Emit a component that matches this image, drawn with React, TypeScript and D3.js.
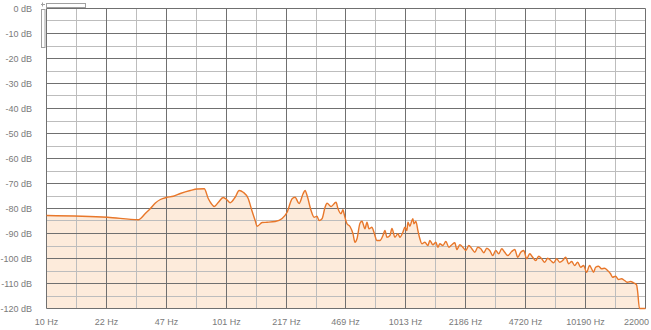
import React from "react";
import * as d3 from "d3";

const freqs: number[] = [
  10, 21.9, 32.6, 33.4, 35.6, 38.0, 40.5, 43.2, 46.6, 51.0, 55.8, 63.4, 69.4, 75.9, 79.9, 83.0, 86.3, 90.8, 96.8, 101.9,
  105.9, 112.9, 118.9, 125.2, 133.5, 140.5, 146.0, 149.8, 159.7, 170.3, 188.7, 206.4, 220.0, 234.7, 243.8, 256.6, 270.2, 277.2, 284.4, 299.4,
  311.2, 323.3, 331.7, 344.7, 358.3, 367.6, 387.0, 412.6, 423.3, 439.9, 451.3, 457.1, 475.1, 493.7, 513.1, 526.4, 540.1, 561.3, 575.9, 598.5,
  614.1, 630.0, 654.8, 671.8, 698.2, 725.6, 754.1, 773.6, 793.7, 824.8, 846.3, 879.4, 913.9, 937.6, 974.4, 999.7, 1025.7, 1039.0, 1066.0, 1093.7,
  1107.8, 1122.1, 1151.2, 1181.1, 1211.8, 1243.3, 1292.0, 1343.0, 1377.9, 1432.0, 1488.3, 1526.9, 1566.6, 1628.2, 1692.0, 1758.4, 1827.0, 1898.9, 1948.3, 2024.8,
  2104.2, 2186.6, 2272.7, 2361.8, 2454.5, 2550.8, 2650.8, 2754.9, 2862.9, 2975.3, 3090.0, 3211.9, 3337.8, 3469.0, 3605.2, 3746.8, 3944.6, 4099.7, 4260.6, 4427.8,
  4601.6, 4782.2, 4969.8, 5164.9, 5367.6, 5578.5, 5797.1, 6024.6, 6261.0, 6506.5, 6762.0, 7027.3, 7302.8, 7589.5, 7887.6, 8197.0, 8518.8, 8853.0, 9200.5, 9561.6,
  9931.9, 10321.8, 10727.1, 11005, 11291, 11585, 12039, 12512, 13002, 13512, 14042, 14407, 14973, 15560, 16171, 16806, 17465, 18150, 18862, 19602,
  19855, 20370, 22000,
];

const levels: number[] = [
  -82.8, -83.5, -84.5, -84.1, -82.0, -80.0, -77.8, -76.4, -75.6, -75.1, -74.0, -72.8, -72.2, -72.1, -76.0, -78.0, -79.2, -77.6, -75.6, -76.6,
  -77.7, -75.5, -72.8, -73.5, -76.0, -81.2, -84.8, -87.1, -85.6, -85.5, -85.2, -84.0, -81.5, -76.1, -75.5, -78.0, -74.1, -72.8, -74.8, -80.8,
  -83.5, -83.1, -84.8, -84.1, -79.5, -77.9, -79.2, -77.5, -80.1, -82.1, -80.5, -82.0, -86.1, -87.2, -90.1, -93.5, -92.1, -85.9, -85.1, -88.1,
  -85.5, -88.1, -87.5, -89.5, -92.8, -92.8, -90.8, -88.8, -91.5, -90.8, -88.0, -91.5, -90.1, -91.5, -89.5, -87.5, -88.8, -85.5, -87.1, -84.8,
  -84.1, -86.1, -85.2, -88.8, -92.1, -94.1, -93.5, -94.8, -92.8, -94.5, -93.5, -95.5, -94.1, -94.8, -93.2, -95.5, -94.5, -93.7, -96.4, -94.5,
  -95.5, -96.8, -94.8, -96.1, -97.5, -95.5, -96.1, -97.7, -95.9, -96.8, -98.8, -96.8, -98.1, -96.1, -97.5, -98.8, -97.2, -96.4, -99.5, -97.5,
  -96.8, -100.1, -98.1, -99.5, -100.8, -99.1, -100.1, -101.5, -99.9, -100.8, -101.7, -100.1, -101.5, -100.8, -99.5, -102.1, -101.2, -102.8, -101.5, -103.5,
  -102.8, -105.5, -102.8, -104.1, -105.5, -103.5, -103.1, -104.1, -103.9, -104.8, -106.1, -107.5, -107.1, -108.4, -108.1, -108.8, -109.5, -109.2, -109.7, -110.5,
  -112.8, -120, -120,
];

const xTickLabels: string[] = ["10 Hz", "22 Hz", "47 Hz", "101 Hz", "217 Hz", "469 Hz", "1013 Hz", "2186 Hz", "4720 Hz", "10190 Hz", "22000"];
const yTickValues: number[] = [0, -10, -20, -30, -40, -50, -60, -70, -80, -90, -100, -110, -120];

const W = 651;
const H = 330;
const LEFT = 46.5;
const RIGHT = 645.5;
const TOP = 8.5;
const BOTTOM = 308.5;
const F_MIN = 10;
const F_MAX = 22000;

export default function App() {
  const x = d3.scaleLog().domain([F_MIN, F_MAX]).range([LEFT, RIGHT]);
  const y = d3.scaleLinear().domain([0, -120]).range([TOP, BOTTOM]);

  const pts = freqs.map((f, i) => [f, levels[i]] as [number, number]);
  const line = d3
    .line<[number, number]>()
    .x((d) => x(d[0]))
    .y((d) => y(d[1]))
    .curve(d3.curveMonotoneX);
  const area = d3
    .area<[number, number]>()
    .x((d) => x(d[0]))
    .y0(y(-120))
    .y1((d) => y(d[1]))
    .curve(d3.curveMonotoneX);

  const nMaj = xTickLabels.length - 1;
  const vLines = d3.range(0, nMaj * 2 + 1).map((i) => {
    const f = F_MIN * Math.pow(F_MAX / F_MIN, i / (nMaj * 2));
    return { px: Math.round(x(f) - 0.5) + 0.5, major: i % 2 === 0 };
  });
  const hLines = d3.range(0, 25).map((i) => {
    const v = -5 * i;
    return { py: Math.round(y(v) - 0.5) + 0.5, major: i % 2 === 0 };
  });

  const font = "'Liberation Sans', Arial, sans-serif";

  return (
    <svg width={W} height={H} style={{ position: "absolute", left: 0, top: 0, background: "#fff" }}>
      <path d={area(pts) || ""} fill="#fdebdb" stroke="none" />
      {hLines.filter((l) => !l.major).map((l, i) => (
        <line key={"hm" + i} x1={LEFT} x2={RIGHT} y1={l.py} y2={l.py} stroke="#bdbdbd" strokeWidth={1} />
      ))}
      {vLines.filter((l) => !l.major).map((l, i) => (
        <line key={"vm" + i} x1={l.px} x2={l.px} y1={TOP} y2={BOTTOM} stroke="#bdbdbd" strokeWidth={1} />
      ))}
      {hLines.filter((l) => l.major).map((l, i) => (
        <line key={"hM" + i} x1={LEFT} x2={RIGHT} y1={l.py} y2={l.py} stroke="#707070" strokeWidth={1} />
      ))}
      {vLines.filter((l) => l.major).map((l, i) => (
        <line key={"vM" + i} x1={l.px} x2={l.px} y1={TOP} y2={BOTTOM} stroke="#707070" strokeWidth={1} />
      ))}
      <path d={line(pts) || ""} fill="none" stroke="#e8772a" strokeWidth={1.4} strokeLinejoin="round" />

      {yTickValues.map((v) => (
        <text key={"yt" + v} x={32} y={y(v) + 3.5} textAnchor="end" fontFamily={font} fontSize={9} fill="#7a7a7a">
          {v + " dB"}
        </text>
      ))}
      {xTickLabels.map((t, i) => {
        const px = vLines[i * 2].px;
        const last = i === xTickLabels.length - 1;
        return (
          <text key={"xt" + i} x={last ? 649 : px} y={325} textAnchor={last ? "end" : "middle"} fontFamily={font} fontSize={9} fill="#7a7a7a">
            {t}
          </text>
        );
      })}

      <rect x={46.5} y={3.5} width={39} height={4} fill="#fff" stroke="#a0a0a0" strokeWidth={1} />
      <rect x={41.5} y={9.5} width={3.5} height={38} fill="#fff" stroke="#a0a0a0" strokeWidth={1} />
      <line x1={41} x2={45} y1={4.5} y2={4.5} stroke="#a0a0a0" />
      <line x1={42.5} x2={42.5} y1={2.5} y2={6.5} stroke="#a0a0a0" />
    </svg>
  );
}
